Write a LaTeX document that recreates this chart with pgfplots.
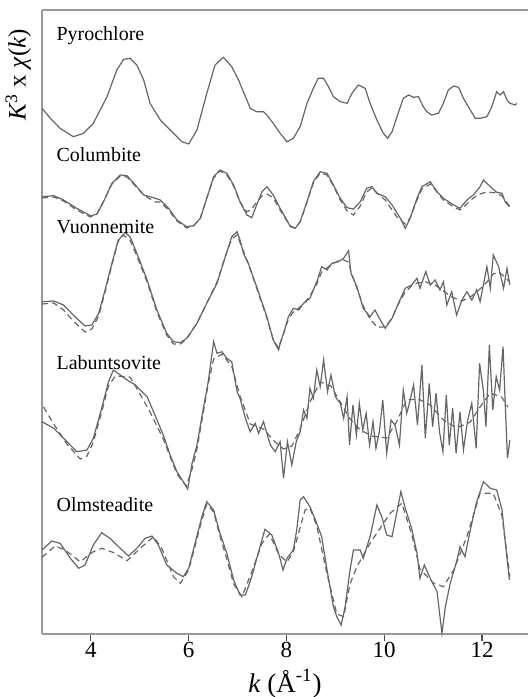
\documentclass[border=0pt]{standalone}
\usepackage{fontspec}
\setmainfont{Liberation Serif}
\usepackage{pgfplots}
\pgfplotsset{compat=1.18}
\definecolor{curve}{gray}{0.40}
\definecolor{axisc}{gray}{0.60}
\begin{document}
\begin{tikzpicture}
\begin{axis}[
  scale only axis, width=243pt, height=312pt,
  xmin=3, xmax=12.94, ymin=0, ymax=624,
  axis x line*=bottom, axis y line*=left,
  axis line style={-, draw=axisc, line width=0.6pt},
  xtick={4,6,8,10,12}, ytick=\empty,
  tick align=outside, major tick length=3.5pt,
  tick style={draw=black!70, line width=0.6pt},
  /pgf/number format/assume math mode=true,
  xticklabel style={font=\fontsize{11.5}{13}\selectfont, anchor=base, yshift=-8pt},
  xlabel={\textit{k} (Å\textsuperscript{-1})},
  every axis x label/.style={at={(axis description cs:0.5,0)}, anchor=base, yshift=-29pt, font=\fontsize{13.5}{15}\selectfont},
  ylabel={\textit{K}\textsuperscript{3} x \textit{χ}(\textit{k})},
  every axis y label/.style={at={(axis description cs:-0.008,0.896)}, rotate=90, anchor=south, font=\fontsize{12.5}{14}\selectfont},
  clip=false,
]
% Pyrochlore
\addplot[curve, line width=0.6pt] coordinates {
(3.00,525.7)(3.17,515.7)(3.37,505.7)(3.64,497.3)(3.85,500.7)(4.05,510.7)(4.33,537.3)(4.53,564)(4.67,574.7)(4.80,575.7)(4.94,569)(5.08,554)(5.21,530.7)(5.42,514)(5.69,500.7)(5.86,492.3)(6.00,490)(6.17,504)(6.37,540.7)(6.54,569)(6.71,576.7)(6.88,567.3)(7.02,554)(7.16,537.3)(7.26,525.7)(7.39,522.3)(7.53,522.3)(7.60,519)(7.73,510.7)(7.87,500.7)(8.01,492.3)(8.14,495.7)(8.28,507.3)(8.42,530.7)(8.55,545.7)(8.65,555.7)(8.76,555.7)(8.86,547.3)(8.96,537.3)(9.10,532.3)(9.24,530.7)(9.34,540.7)(9.47,549)(9.61,545.7)(9.71,530.7)(9.85,514)(9.98,500.7)(10.07,495.7)(10.16,502.3)(10.26,517.3)(10.39,535.7)(10.50,539)(10.60,536.7)(10.70,537.3)(10.80,527.3)(10.87,522.3)(10.97,519)(11.11,520.7)(11.21,530.7)(11.31,544)(11.42,548)(11.52,546.7)(11.62,535.7)(11.76,524)(11.86,515.7)(11.96,515.7)(12.10,517.3)(12.20,527.3)(12.30,542.3)(12.37,539)(12.44,542.3)(12.51,534)(12.57,530.7)(12.68,529)(12.71,530.7)
};
% Columbite
\addplot[curve, line width=0.6pt] coordinates {
(3.00,437.3)(3.24,438.3)(3.44,434)(3.71,425.7)(3.99,418.3)(4.12,419.7)(4.26,432.3)(4.43,450.7)(4.60,459)(4.74,458.3)(4.91,449)(5.08,439)(5.28,436.3)(5.42,434)(5.59,425.7)(5.76,414)(5.96,407.3)(6.10,408.3)(6.24,415.7)(6.37,435.7)(6.51,457.3)(6.64,464)(6.78,460.7)(6.92,449)(7.05,432.3)(7.19,419)(7.29,416.3)(7.39,429)(7.50,442.3)(7.60,447.3)(7.73,439)(7.87,425.7)(7.97,417.3)(8.08,407.3)(8.18,405.7)(8.28,412.3)(8.42,432.3)(8.55,452.3)(8.69,462.3)(8.83,460.7)(8.96,449)(9.10,435.7)(9.24,426.3)(9.37,425)(9.51,432.3)(9.64,445.7)(9.75,447.3)(9.85,440.7)(10.02,437.3)(10.16,429)(10.33,415.7)(10.43,405.7)(10.53,415.7)(10.67,435.7)(10.77,447.3)(10.94,452.3)(11.08,442.3)(11.21,435.7)(11.42,429)(11.55,425.7)(11.69,434)(11.82,439)(11.96,447.3)(12.03,454)(12.17,447.3)(12.30,441.7)(12.41,440.7)(12.47,432.3)(12.56,427.3)
};
\addplot[curve, line width=0.6pt, dash pattern=on 3pt off 2pt] coordinates {
(3.00,436)(3.24,437)(3.44,433)(3.71,424)(3.99,417)(4.12,420)(4.26,433)(4.43,450)(4.60,458)(4.74,457)(4.91,448)(5.08,439)(5.31,432)(5.42,432)(5.59,424)(5.76,413)(5.96,406)(6.10,408)(6.24,416)(6.37,436)(6.51,456)(6.64,463)(6.78,459)(6.92,448)(7.05,432)(7.19,422)(7.29,425)(7.39,432)(7.50,438)(7.60,440)(7.73,436)(7.87,424)(7.97,416)(8.08,408)(8.18,406)(8.28,412)(8.42,432)(8.55,451)(8.69,461)(8.83,459)(8.96,448)(9.10,434)(9.24,423)(9.37,419)(9.51,428)(9.64,442)(9.75,446)(9.85,441)(10.02,434)(10.16,424)(10.26,417)(10.33,414)(10.43,410)(10.53,416)(10.67,434)(10.77,445)(10.94,450)(11.08,442)(11.21,434)(11.42,427)(11.55,424)(11.69,430)(11.82,436)(11.96,440)(12.10,442)(12.30,441)(12.41,438)(12.56,428)
};
% Vuonnemite
\addplot[curve, line width=0.6pt] coordinates {
(3.00,332.3)(3.24,333)(3.44,329)(3.64,319)(3.88,308)(4.02,309)(4.16,320.7)(4.29,344)(4.43,370.7)(4.56,394)(4.70,401.3)(4.80,397.3)(4.94,380.7)(5.15,354)(5.35,324)(5.55,300.7)(5.69,292.3)(5.83,291.3)(5.96,295.7)(6.17,310.7)(6.37,330.7)(6.58,350.7)(6.75,377.3)(6.88,397.3)(6.99,402.3)(7.05,394)(7.12,380.7)(7.22,370.7)(7.39,347.3)(7.60,317.3)(7.73,294)(7.84,284)(7.87,290.7)(7.94,300.7)(8.04,317.3)(8.14,325.7)(8.25,324)(8.35,330.7)(8.48,335.7)(8.62,352.3)(8.72,367.3)(8.83,364)(8.93,370.7)(9.06,372.3)(9.17,375.7)(9.27,383.3)(9.32,360.7)(9.44,347.3)(9.57,325.7)(9.71,317.3)(9.81,324)(9.92,314)(10.02,305.7)(10.16,315.7)(10.29,330.7)(10.43,345.7)(10.56,349)(10.67,355.7)(10.73,345.7)(10.85,362.3)(10.94,349)(11.04,354)(11.14,344)(11.21,352.3)(11.28,329)(11.38,342.3)(11.48,319)(11.59,334)(11.69,342.3)(11.79,334)(11.89,344)(11.96,332.3)(12.10,367.3)(12.17,345.7)(12.23,379)(12.34,367.3)(12.44,345.7)(12.51,365.7)(12.57,349)
};
\addplot[curve, line width=0.6pt, dash pattern=on 3pt off 2pt] coordinates {
(3.00,330)(3.24,331)(3.44,324)(3.64,313)(3.88,302)(4.02,305)(4.16,318)(4.29,342)(4.43,369)(4.56,393)(4.66,399)(4.80,394)(4.94,378)(5.15,352)(5.35,322)(5.55,299)(5.69,290)(5.83,290)(5.96,295)(6.17,311)(6.37,331)(6.58,352)(6.75,378)(6.88,395)(6.99,399)(7.12,383)(7.22,370)(7.39,346)(7.60,316)(7.73,294)(7.84,286)(7.94,300)(8.04,315)(8.14,322)(8.25,326)(8.35,330)(8.48,338)(8.62,350)(8.72,362)(8.83,366)(8.93,370)(9.06,373)(9.17,374)(9.27,372)(9.32,362)(9.44,346)(9.57,328)(9.71,315)(9.85,307)(10.02,307)(10.16,316)(10.29,330)(10.43,342)(10.56,348)(10.67,351)(10.85,352)(11.04,349)(11.21,343)(11.38,337)(11.59,333)(11.79,338)(11.96,345)(12.10,352)(12.23,360)(12.34,362)(12.44,358)(12.57,352)
};
% Labuntsovite
\addplot[curve, line width=0.6pt] coordinates {
(3.00,212.3)(3.24,205.7)(3.51,192.3)(3.71,182.3)(3.92,184)(4.05,195.7)(4.22,225.7)(4.36,252.3)(4.46,264)(4.60,259)(4.74,254)(4.91,249)(5.01,244)(5.15,237.3)(5.31,219)(5.48,199)(5.62,179)(5.76,162.3)(5.89,152.3)(5.98,145)(6.07,170.7)(6.17,189)(6.30,225.7)(6.40,252.3)(6.51,292.3)(6.58,280.7)(6.68,282.3)(6.78,275.7)(6.88,272.3)(6.99,242.3)(7.05,235.7)(7.16,215.7)(7.26,202.3)(7.36,210.7)(7.43,200.7)(7.53,212.3)(7.67,189)(7.77,182.3)(7.87,192.3)(7.94,155.7)(8.02,192.3)(8.11,169)(8.20,192.3)(8.28,202.3)(8.35,224)(8.42,215.7)(8.48,245.7)(8.55,235.7)(8.62,264)(8.69,247.3)(8.76,274)(8.84,242.3)(8.91,259)(9.00,237.3)(9.10,230.7)(9.17,215.7)(9.24,237.3)(9.29,189)(9.36,229)(9.43,199)(9.49,230.7)(9.56,204)(9.63,220.7)(9.70,189)(9.77,212.3)(9.83,185.7)(9.90,202.3)(9.97,234)(10.05,180.7)(10.14,214)(10.22,209)(10.31,189)(10.39,244)(10.46,220.7)(10.53,234)(10.60,249)(10.68,209)(10.77,269)(10.84,195.7)(10.92,250.7)(10.99,207.3)(11.06,240.7)(11.13,202.3)(11.20,182.3)(11.27,239)(11.33,189)(11.40,225.7)(11.47,180.7)(11.55,222.3)(11.62,184)(11.70,212.3)(11.79,230.7)(11.88,185.7)(11.95,270.7)(12.03,242.3)(12.08,207.3)(12.15,289)(12.22,224)(12.29,257.3)(12.36,244)(12.43,287.3)(12.47,235.7)(12.52,175.7)(12.57,194)
};
\addplot[curve, line width=0.6pt, dash pattern=on 3pt off 2pt] coordinates {
(3.03,227)(3.24,210)(3.51,190)(3.78,175)(3.92,178)(4.05,192)(4.22,222)(4.36,248)(4.50,258)(4.80,257)(4.91,248)(5.21,222)(5.48,195)(5.76,160)(5.95,148)(6.07,165)(6.17,185)(6.30,222)(6.40,250)(6.51,275)(6.68,280)(6.88,268)(7.05,238)(7.26,210)(7.53,205)(7.77,192)(7.94,185)(8.11,188)(8.28,205)(8.48,232)(8.69,252)(8.91,248)(9.10,232)(9.30,215)(9.51,204)(9.75,198)(10.05,196)(10.25,212)(10.46,234)(10.70,235)(10.94,229)(11.21,214)(11.48,206)(11.76,212)(11.96,227)(12.17,241)(12.40,237)(12.53,227)
};
% Olmsteadite
\addplot[curve, line width=0.6pt] coordinates {
(3.00,84)(3.20,93)(3.37,90.7)(3.58,75.7)(3.75,65.7)(3.88,69)(4.05,89)(4.22,101.3)(4.39,95.7)(4.60,85.7)(4.77,78)(4.94,85.7)(5.11,95.7)(5.25,98)(5.38,89)(5.55,69)(5.76,60.7)(5.89,57.3)(6.00,65.7)(6.13,90.7)(6.27,117.3)(6.37,132.3)(6.51,124)(6.64,100.7)(6.78,80.7)(6.92,54)(7.05,39)(7.16,39)(7.29,57.3)(7.43,82.3)(7.56,104.7)(7.70,99)(7.84,80.7)(7.93,64)(8.01,75.7)(8.14,84)(8.21,104)(8.28,134)(8.35,137.3)(8.48,127.3)(8.62,110.7)(8.72,97.3)(8.83,64)(8.96,27.3)(9.03,17.3)(9.12,9)(9.20,27.3)(9.30,64)(9.37,84)(9.51,84)(9.57,75.7)(9.71,97.3)(9.85,129)(9.95,117.3)(10.05,99)(10.16,97.3)(10.26,122.3)(10.34,142.3)(10.43,125.7)(10.56,105.7)(10.67,80.7)(10.73,55.7)(10.82,69)(10.94,55.7)(11.08,42.3)(11.18,0.7)(11.25,27.3)(11.35,50.7)(11.48,72.3)(11.55,87.3)(11.65,77.3)(11.76,104)(11.89,132.3)(12.03,152.3)(12.17,145.7)(12.30,144)(12.41,124)(12.47,94)(12.56,54)
};
\addplot[curve, line width=0.6pt, dash pattern=on 3pt off 2pt] coordinates {
(3.00,76.7)(3.27,88)(3.47,84)(3.78,72.3)(4.05,82.3)(4.22,85.7)(4.47,81.3)(4.74,73.3)(5.01,85.7)(5.28,97.3)(5.45,85.7)(5.69,57.3)(5.83,50.7)(6.00,64)(6.13,88)(6.27,114)(6.37,130)(6.51,122)(6.64,98)(6.78,75)(6.92,50)(7.09,37.3)(7.29,62)(7.50,90.7)(7.65,100)(7.84,80)(8.01,72)(8.14,82)(8.38,124)(8.48,126)(8.62,108)(8.83,60)(9.03,20)(9.17,17.3)(9.30,50)(9.44,67.3)(9.71,90.7)(10.12,120.7)(10.36,130.7)(10.56,100)(10.73,65)(11.01,50.7)(11.21,47.3)(11.42,64)(11.69,97.3)(11.96,140.7)(12.23,140.7)(12.41,118)(12.57,57.3)
};
\begin{scope}[every node/.style={anchor=base west, font=\fontsize{10}{12}\selectfont, inner sep=0pt}]
\node at (axis cs:3.29,593) {Pyrochlore};
\node at (axis cs:3.29,472.3) {Columbite};
\node at (axis cs:3.29,400.7) {Vuonnemite};
\node at (axis cs:3.29,264.7) {Labuntsovite};
\node at (axis cs:3.29,122.3) {Olmsteadite};
\end{scope}
\coordinate (BL) at (rel axis cs:0,0);
\coordinate (TR) at (rel axis cs:1,1);
\end{axis}
\draw[axisc, line width=0.6pt] (BL |- TR) -- (TR);
\pgfresetboundingbox
\useasboundingbox ([xshift=-21pt,yshift=-31.5pt]BL) rectangle ([yshift=5pt]TR);
\end{tikzpicture}
\end{document}
